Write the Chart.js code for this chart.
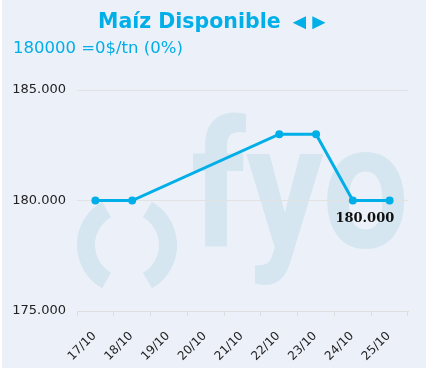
<!DOCTYPE html>
<html>
<head>
<meta charset="utf-8">
<script src="https://cdn.jsdelivr.net/npm/chart.js@4"></script>
<style>
  html, body { margin: 0; padding: 0; background: #ffffff; }
  #caja { position: absolute; left: 2px; top: 0; width: 424px; height: 368px; }
  .precarga { position: absolute; left: -999px; top: 0; }
</style>
</head>
<body>
<span class="precarga" style="font-family:'DejaVu Sans'">Maíz</span>
<span class="precarga" style="font-family:'DejaVu Sans';font-weight:bold">Maíz</span>
<span class="precarga" style="font-family:'DejaVu Serif';font-weight:bold">180.000</span>
<span class="precarga" style="font-family:'Liberation Sans'">◄►</span>
<span class="precarga" style="font-family:Roboto;font-weight:bold">fyo</span>
<div id="caja"><canvas id="grafico" width="424" height="368"></canvas></div>
<script>
// Datos
const fechas = ['17/10', '18/10', '19/10', '20/10', '21/10', '22/10', '23/10', '24/10', '25/10'];
const precios = [180000, 180000, null, null, null, 183000, 183000, 180000, 180000];
const ticksY = [175000, 180000, 185000];
const titulo = 'Maíz Disponible';
const flechas = ['◄', '►'];
const subtitulo = '180000 =0$/tn (0%)';
const etiquetaValor = '180.000';

const AZUL = '#00aee8';
const FONDO = '#ecf1f9';
const MARCA = '#d5e6f0';
const SANS = '"DejaVu Sans", sans-serif';

function conPuntos(v) {
    return Math.round(v).toString().replace(/\B(?=(\d{3})+(?!\d))/g, '.');
}

// 1. Fondo, marca de agua y textos
const pluginDecoracion = {
    id: 'decoracion',
    beforeDraw(chart) {
        const ctx = chart.ctx;
        ctx.save();
        ctx.fillStyle = FONDO;
        ctx.fillRect(0, 0, chart.width, chart.height);

        // marca de agua "( ) fyo"
        ctx.strokeStyle = MARCA;
        ctx.fillStyle = MARCA;
        ctx.lineWidth = 18;
        ctx.beginPath();
        ctx.arc(125, 245, 41, Math.PI - 1.05, Math.PI + 1.05);
        ctx.stroke();
        ctx.beginPath();
        ctx.arc(125, 245, 41, -1.05, 1.05);
        ctx.stroke();

        ctx.font = 'bold 176px Roboto, sans-serif';
        ctx.textBaseline = 'alphabetic';
        ctx.textAlign = 'left';
        const ancho = ctx.measureText('fyo').width;
        ctx.translate(189, 247);
        ctx.scale(218 / ancho, 1);
        ctx.fillText('fyo', 0, 0);
        ctx.restore();

        ctx.save();
        ctx.fillStyle = AZUL;
        ctx.textAlign = 'left';
        ctx.textBaseline = 'alphabetic';
        ctx.font = 'bold 20.5px ' + SANS;
        ctx.fillText(titulo, 96, 28);
        ctx.textAlign = 'center';
        ctx.font = '22px "Liberation Sans", sans-serif';
        ctx.fillText(flechas[0], 297.5, 29);
        ctx.fillText(flechas[1], 317, 29);
        ctx.textAlign = 'left';
        ctx.font = '16.5px ' + SANS;
        ctx.fillText(subtitulo, 11, 53);
        ctx.restore();
    },
    afterDatasetsDraw(chart) {
        const ctx = chart.ctx;
        const x = chart.scales.x.getPixelForValue(7);
        const y = chart.scales.y.getPixelForValue(precios[7]);
        ctx.save();
        ctx.fillStyle = '#111111';
        ctx.font = 'bold 13px "DejaVu Serif", serif';
        ctx.textAlign = 'center';
        ctx.textBaseline = 'middle';
        ctx.fillText(etiquetaValor, x + 12, y + 18);
        ctx.restore();
    }
};

// 2. Gráfico
function dibujar() {
    new Chart(document.getElementById('grafico'), {
        type: 'line',
        data: {
            labels: fechas,
            datasets: [{
                data: precios,
                borderColor: AZUL,
                backgroundColor: AZUL,
                borderWidth: 3,
                pointRadius: 4,
                pointBackgroundColor: AZUL,
                pointBorderWidth: 0,
                spanGaps: true,
                tension: 0
            }]
        },
        options: {
            responsive: false,
            animation: false,
            layout: { padding: { top: 90, right: 18, left: 0, bottom: 0 } },
            plugins: {
                legend: { display: false },
                tooltip: { enabled: false }
            },
            scales: {
                x: {
                    offset: true,
                    grid: { display: true, drawOnChartArea: false, offset: true, tickLength: 5, color: '#dedede' },
                    border: { color: '#dedede' },
                    ticks: {
                        color: '#222222',
                        font: { family: SANS, size: 12 },
                        minRotation: 45,
                        maxRotation: 45,
                        autoSkip: false,
                        padding: 13,
                        labelOffset: -1
                    },
                    afterFit(scale) { scale.height = 57; }
                },
                y: {
                    min: 175000,
                    max: 185000,
                    afterBuildTicks(scale) { scale.ticks = ticksY.map(v => ({ value: v })); },
                    grid: { color: '#e2e2e2', drawTicks: false },
                    border: { display: false },
                    ticks: {
                        color: '#222222',
                        font: { family: SANS, size: 13 },
                        padding: 11,
                        callback: v => conPuntos(v)
                    },
                    afterFit(scale) { scale.width = 75; }
                }
            }
        },
        plugins: [pluginDecoracion]
    });
}

Promise.all([
    document.fonts.load('19px "DejaVu Sans"'),
    document.fonts.load('bold 19px "DejaVu Sans"'),
    document.fonts.load('bold 13px "DejaVu Serif"'),
    document.fonts.load('18px "Liberation Sans"'),
    document.fonts.load('bold 170px Roboto')
]).then(dibujar, dibujar);
</script>
</body>
</html>
